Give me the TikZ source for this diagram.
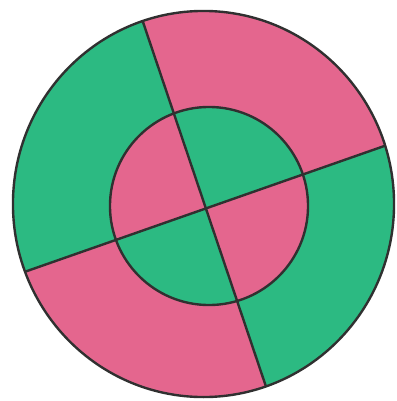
\documentclass[tikz,border=0pt]{standalone}
\usepackage{xcolor}
\usepackage{tikz}
\usetikzlibrary{calc}

\definecolor{markgreen}{RGB}{44,186,130}
\definecolor{markpink}{RGB}{228,102,142}
\definecolor{inkline}{RGB}{48,48,48}

\begin{document}
\begin{tikzpicture}[
    x=0.025cm, y=-0.025cm,
    ink/.style={draw=inkline, line width=1.7pt},
    outerring/.style={x radius=4.7625cm, y radius=4.825cm},
    innerdisc/.style={radius=2.475cm}
]
\useasboundingbox (0,0) rectangle (396,401);
\coordinate (c)  at (203.5,204);
\coordinate (ci) at (209,206);
\coordinate (t)  at (140.5,14.6);
\coordinate (b)  at (269.5,397);
\coordinate (l)  at (10,277);
\coordinate (r)  at (400,140.5);
\coordinate (x)  at (intersection of t--b and l--r);

% outer ring
\begin{scope}
  \clip (c) ellipse [outerring];
  \fill[markpink] (c) ellipse [outerring];
  \fill[markgreen] (x) -- (l) -- (-30,277) -- (-30,-30) -- (140.5,-30) -- (t) -- cycle;
  \fill[markgreen] (x) -- (r) -- (430,140.5) -- (430,430) -- (269.5,430) -- (b) -- cycle;
\end{scope}

% inner disc, colours swapped
\begin{scope}
  \clip (ci) circle [innerdisc];
  \fill[markgreen] (ci) circle [innerdisc];
  \fill[markpink] (x) -- (l) -- (-30,277) -- (-30,-30) -- (140.5,-30) -- (t) -- cycle;
  \fill[markpink] (x) -- (r) -- (430,140.5) -- (430,430) -- (269.5,430) -- (b) -- cycle;
\end{scope}

% the pen lines
\begin{scope}
  \clip (c) ellipse [outerring];
  \draw[ink] (t) -- (b);
  \draw[ink] (l) -- (r);
\end{scope}
\draw[ink] (ci) circle [innerdisc];
\draw[ink] (c) ellipse [outerring];
\end{tikzpicture}
\end{document}
